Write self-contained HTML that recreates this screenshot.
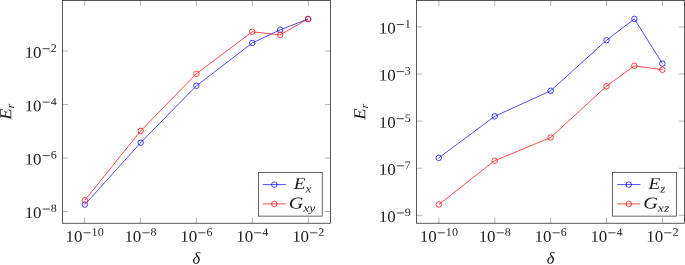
<!DOCTYPE html>
<html><head><meta charset="utf-8"><title>plots</title>
<style>
html,body{margin:0;padding:0;background:#fff;}
body{width:685px;height:265px;overflow:hidden;font-family:'Liberation Serif', serif;}
svg{display:block;will-change:transform;font-family:"Liberation Serif", serif;}
.ax{fill:none;stroke:#000;stroke-width:0.65;}
.tk{stroke:#777;stroke-width:0.55;}
text{fill:#1c1c1c;text-rendering:geometricPrecision;}
</style></head><body>
<svg width="685" height="265" viewBox="0 0 685 265">
<rect x="0" y="0" width="685" height="265" fill="#fff"/>
<line x1="84.65" y1="223.2" x2="84.65" y2="217.5" class="tk"/>
<line x1="84.65" y1="0.5" x2="84.65" y2="6.2" class="tk"/>
<line x1="140.55" y1="223.2" x2="140.55" y2="217.5" class="tk"/>
<line x1="140.55" y1="0.5" x2="140.55" y2="6.2" class="tk"/>
<line x1="196.45" y1="223.2" x2="196.45" y2="217.5" class="tk"/>
<line x1="196.45" y1="0.5" x2="196.45" y2="6.2" class="tk"/>
<line x1="252.35" y1="223.2" x2="252.35" y2="217.5" class="tk"/>
<line x1="252.35" y1="0.5" x2="252.35" y2="6.2" class="tk"/>
<line x1="308.3" y1="223.2" x2="308.3" y2="217.5" class="tk"/>
<line x1="308.3" y1="0.5" x2="308.3" y2="6.2" class="tk"/>
<line x1="62.6" y1="51.1" x2="68.3" y2="51.1" class="tk"/>
<line x1="330.45" y1="51.1" x2="324.75" y2="51.1" class="tk"/>
<line x1="62.6" y1="104.55" x2="68.3" y2="104.55" class="tk"/>
<line x1="330.45" y1="104.55" x2="324.75" y2="104.55" class="tk"/>
<line x1="62.6" y1="158.0" x2="68.3" y2="158.0" class="tk"/>
<line x1="330.45" y1="158.0" x2="324.75" y2="158.0" class="tk"/>
<line x1="62.6" y1="211.45" x2="68.3" y2="211.45" class="tk"/>
<line x1="330.45" y1="211.45" x2="324.75" y2="211.45" class="tk"/>
<rect x="62.6" y="0.5" width="267.84999999999997" height="222.7" class="ax"/>
<polyline points="84.8,204.6 140.7,142.7 196.4,85.8 252.25,43.0 280.2,29.8 308.1,19.0" fill="none" stroke="#0000ff" stroke-width="0.7"/>
<circle cx="84.8" cy="204.6" r="2.76" fill="none" stroke="#0000ff" stroke-width="0.75"/>
<circle cx="140.7" cy="142.7" r="2.76" fill="none" stroke="#0000ff" stroke-width="0.75"/>
<circle cx="196.4" cy="85.8" r="2.76" fill="none" stroke="#0000ff" stroke-width="0.75"/>
<circle cx="252.25" cy="43.0" r="2.76" fill="none" stroke="#0000ff" stroke-width="0.75"/>
<circle cx="280.2" cy="29.8" r="2.76" fill="none" stroke="#0000ff" stroke-width="0.75"/>
<circle cx="308.1" cy="19.0" r="2.76" fill="none" stroke="#0000ff" stroke-width="0.75"/>
<polyline points="84.8,200.3 140.7,130.9 196.4,73.7 252.25,31.75 280.2,34.8 308.1,19.0" fill="none" stroke="#ff0000" stroke-width="0.7"/>
<circle cx="84.8" cy="200.3" r="2.76" fill="none" stroke="#ff0000" stroke-width="0.75"/>
<circle cx="140.7" cy="130.9" r="2.76" fill="none" stroke="#ff0000" stroke-width="0.75"/>
<circle cx="196.4" cy="73.7" r="2.76" fill="none" stroke="#ff0000" stroke-width="0.75"/>
<circle cx="252.25" cy="31.75" r="2.76" fill="none" stroke="#ff0000" stroke-width="0.75"/>
<circle cx="280.2" cy="34.8" r="2.76" fill="none" stroke="#ff0000" stroke-width="0.75"/>
<circle cx="308.1" cy="19.0" r="2.76" fill="none" stroke="#ff0000" stroke-width="0.75"/>
<text transform="translate(65.43,241.80) rotate(0.05) scale(1.06,1)" font-size="16.0">10</text><line x1="83.40" y1="232.80" x2="90.60" y2="232.80" stroke="#000" stroke-width="0.75"/><text transform="translate(91.60,235.80) rotate(0.05) scale(1.08,1)" font-size="11.2">10</text>
<text transform="translate(124.38,241.80) rotate(0.05) scale(1.06,1)" font-size="16.0">10</text><line x1="142.35" y1="232.80" x2="149.55" y2="232.80" stroke="#000" stroke-width="0.75"/><text transform="translate(150.55,235.80) rotate(0.05) scale(1.08,1)" font-size="11.2">8</text>
<text transform="translate(180.28,241.80) rotate(0.05) scale(1.06,1)" font-size="16.0">10</text><line x1="198.25" y1="232.80" x2="205.45" y2="232.80" stroke="#000" stroke-width="0.75"/><text transform="translate(206.45,235.80) rotate(0.05) scale(1.08,1)" font-size="11.2">6</text>
<text transform="translate(236.18,241.80) rotate(0.05) scale(1.06,1)" font-size="16.0">10</text><line x1="254.15" y1="232.80" x2="261.35" y2="232.80" stroke="#000" stroke-width="0.75"/><text transform="translate(262.35,235.80) rotate(0.05) scale(1.08,1)" font-size="11.2">4</text>
<text transform="translate(292.13,241.80) rotate(0.05) scale(1.06,1)" font-size="16.0">10</text><line x1="310.10" y1="232.80" x2="317.30" y2="232.80" stroke="#000" stroke-width="0.75"/><text transform="translate(318.30,235.80) rotate(0.05) scale(1.08,1)" font-size="11.2">2</text>
<text transform="translate(24.63,57.70) rotate(0.05) scale(1.06,1)" font-size="16.0">10</text><line x1="42.60" y1="48.70" x2="49.80" y2="48.70" stroke="#000" stroke-width="0.75"/><text transform="translate(50.80,51.70) rotate(0.05) scale(1.08,1)" font-size="11.2">2</text>
<text transform="translate(24.63,111.15) rotate(0.05) scale(1.06,1)" font-size="16.0">10</text><line x1="42.60" y1="102.15" x2="49.80" y2="102.15" stroke="#000" stroke-width="0.75"/><text transform="translate(50.80,105.15) rotate(0.05) scale(1.08,1)" font-size="11.2">4</text>
<text transform="translate(24.63,164.60) rotate(0.05) scale(1.06,1)" font-size="16.0">10</text><line x1="42.60" y1="155.60" x2="49.80" y2="155.60" stroke="#000" stroke-width="0.75"/><text transform="translate(50.80,158.60) rotate(0.05) scale(1.08,1)" font-size="11.2">6</text>
<text transform="translate(24.63,218.05) rotate(0.05) scale(1.06,1)" font-size="16.0">10</text><line x1="42.60" y1="209.05" x2="49.80" y2="209.05" stroke="#000" stroke-width="0.75"/><text transform="translate(50.80,212.05) rotate(0.05) scale(1.08,1)" font-size="11.2">8</text>
<rect x="258.5" y="172.45" width="63.69999999999999" height="43.650000000000006" fill="#fff" stroke="#000" stroke-width="0.6"/>
<line x1="262.75" y1="184.6" x2="285.9" y2="184.6" stroke="#0000ff" stroke-width="0.7"/>
<circle cx="274.325" cy="184.6" r="2.76" fill="none" stroke="#0000ff" stroke-width="0.75"/>
<text transform="translate(302.6,189.10) rotate(0.05) scale(1.16,1)" text-anchor="middle" font-style="italic" font-size="16.6">E<tspan dy="3.3" font-size="11.2">x</tspan></text>
<line x1="262.75" y1="203.9" x2="285.9" y2="203.9" stroke="#ff0000" stroke-width="0.7"/>
<circle cx="274.325" cy="203.9" r="2.76" fill="none" stroke="#ff0000" stroke-width="0.75"/>
<text transform="translate(302.0,208.40) rotate(0.05) scale(1.22,1)" text-anchor="middle" font-style="italic" font-size="16.6">G<tspan dy="3.3" font-size="11.2">xy</tspan></text>
<text transform="translate(11.3,111.8) rotate(-89.95) scale(1.1,1)" text-anchor="middle" font-style="italic" font-size="16.8">E<tspan dy="2.6" font-size="11.2">r</tspan></text>
<text transform="translate(196.4,263.6) rotate(0.05)" text-anchor="middle" font-style="italic" font-size="16.6">δ</text>
<line x1="438.9" y1="223.2" x2="438.9" y2="217.5" class="tk"/>
<line x1="438.9" y1="0.5" x2="438.9" y2="6.2" class="tk"/>
<line x1="494.8" y1="223.2" x2="494.8" y2="217.5" class="tk"/>
<line x1="494.8" y1="0.5" x2="494.8" y2="6.2" class="tk"/>
<line x1="550.7" y1="223.2" x2="550.7" y2="217.5" class="tk"/>
<line x1="550.7" y1="0.5" x2="550.7" y2="6.2" class="tk"/>
<line x1="606.55" y1="223.2" x2="606.55" y2="217.5" class="tk"/>
<line x1="606.55" y1="0.5" x2="606.55" y2="6.2" class="tk"/>
<line x1="662.45" y1="223.2" x2="662.45" y2="217.5" class="tk"/>
<line x1="662.45" y1="0.5" x2="662.45" y2="6.2" class="tk"/>
<line x1="416.65" y1="26.95" x2="422.34999999999997" y2="26.95" class="tk"/>
<line x1="684.45" y1="26.95" x2="678.75" y2="26.95" class="tk"/>
<line x1="416.65" y1="74.0" x2="422.34999999999997" y2="74.0" class="tk"/>
<line x1="684.45" y1="74.0" x2="678.75" y2="74.0" class="tk"/>
<line x1="416.65" y1="121.1" x2="422.34999999999997" y2="121.1" class="tk"/>
<line x1="684.45" y1="121.1" x2="678.75" y2="121.1" class="tk"/>
<line x1="416.65" y1="168.25" x2="422.34999999999997" y2="168.25" class="tk"/>
<line x1="684.45" y1="168.25" x2="678.75" y2="168.25" class="tk"/>
<line x1="416.65" y1="215.35" x2="422.34999999999997" y2="215.35" class="tk"/>
<line x1="684.45" y1="215.35" x2="678.75" y2="215.35" class="tk"/>
<rect x="416.65" y="0.5" width="267.80000000000007" height="222.7" class="ax"/>
<polyline points="438.8,157.9 494.7,116.3 550.6,90.8 606.5,40.2 634.4,18.9 662.4,63.6" fill="none" stroke="#0000ff" stroke-width="0.7"/>
<circle cx="438.8" cy="157.9" r="2.76" fill="none" stroke="#0000ff" stroke-width="0.75"/>
<circle cx="494.7" cy="116.3" r="2.76" fill="none" stroke="#0000ff" stroke-width="0.75"/>
<circle cx="550.6" cy="90.8" r="2.76" fill="none" stroke="#0000ff" stroke-width="0.75"/>
<circle cx="606.5" cy="40.2" r="2.76" fill="none" stroke="#0000ff" stroke-width="0.75"/>
<circle cx="634.4" cy="18.9" r="2.76" fill="none" stroke="#0000ff" stroke-width="0.75"/>
<circle cx="662.4" cy="63.6" r="2.76" fill="none" stroke="#0000ff" stroke-width="0.75"/>
<polyline points="438.8,204.5 494.7,160.7 550.6,137.5 606.5,86.2 634.4,65.8 662.4,69.75" fill="none" stroke="#ff0000" stroke-width="0.7"/>
<circle cx="438.8" cy="204.5" r="2.76" fill="none" stroke="#ff0000" stroke-width="0.75"/>
<circle cx="494.7" cy="160.7" r="2.76" fill="none" stroke="#ff0000" stroke-width="0.75"/>
<circle cx="550.6" cy="137.5" r="2.76" fill="none" stroke="#ff0000" stroke-width="0.75"/>
<circle cx="606.5" cy="86.2" r="2.76" fill="none" stroke="#ff0000" stroke-width="0.75"/>
<circle cx="634.4" cy="65.8" r="2.76" fill="none" stroke="#ff0000" stroke-width="0.75"/>
<circle cx="662.4" cy="69.75" r="2.76" fill="none" stroke="#ff0000" stroke-width="0.75"/>
<text transform="translate(419.68,241.80) rotate(0.05) scale(1.06,1)" font-size="16.0">10</text><line x1="437.65" y1="232.80" x2="444.85" y2="232.80" stroke="#000" stroke-width="0.75"/><text transform="translate(445.85,235.80) rotate(0.05) scale(1.08,1)" font-size="11.2">10</text>
<text transform="translate(478.63,241.80) rotate(0.05) scale(1.06,1)" font-size="16.0">10</text><line x1="496.60" y1="232.80" x2="503.80" y2="232.80" stroke="#000" stroke-width="0.75"/><text transform="translate(504.80,235.80) rotate(0.05) scale(1.08,1)" font-size="11.2">8</text>
<text transform="translate(534.53,241.80) rotate(0.05) scale(1.06,1)" font-size="16.0">10</text><line x1="552.50" y1="232.80" x2="559.70" y2="232.80" stroke="#000" stroke-width="0.75"/><text transform="translate(560.70,235.80) rotate(0.05) scale(1.08,1)" font-size="11.2">6</text>
<text transform="translate(590.38,241.80) rotate(0.05) scale(1.06,1)" font-size="16.0">10</text><line x1="608.35" y1="232.80" x2="615.55" y2="232.80" stroke="#000" stroke-width="0.75"/><text transform="translate(616.55,235.80) rotate(0.05) scale(1.08,1)" font-size="11.2">4</text>
<text transform="translate(646.28,241.80) rotate(0.05) scale(1.06,1)" font-size="16.0">10</text><line x1="664.25" y1="232.80" x2="671.45" y2="232.80" stroke="#000" stroke-width="0.75"/><text transform="translate(672.45,235.80) rotate(0.05) scale(1.08,1)" font-size="11.2">2</text>
<text transform="translate(378.68,33.55) rotate(0.05) scale(1.06,1)" font-size="16.0">10</text><line x1="396.65" y1="24.55" x2="403.85" y2="24.55" stroke="#000" stroke-width="0.75"/><text transform="translate(404.85,27.55) rotate(0.05) scale(1.08,1)" font-size="11.2">1</text>
<text transform="translate(378.68,80.60) rotate(0.05) scale(1.06,1)" font-size="16.0">10</text><line x1="396.65" y1="71.60" x2="403.85" y2="71.60" stroke="#000" stroke-width="0.75"/><text transform="translate(404.85,74.60) rotate(0.05) scale(1.08,1)" font-size="11.2">3</text>
<text transform="translate(378.68,127.70) rotate(0.05) scale(1.06,1)" font-size="16.0">10</text><line x1="396.65" y1="118.70" x2="403.85" y2="118.70" stroke="#000" stroke-width="0.75"/><text transform="translate(404.85,121.70) rotate(0.05) scale(1.08,1)" font-size="11.2">5</text>
<text transform="translate(378.68,174.85) rotate(0.05) scale(1.06,1)" font-size="16.0">10</text><line x1="396.65" y1="165.85" x2="403.85" y2="165.85" stroke="#000" stroke-width="0.75"/><text transform="translate(404.85,168.85) rotate(0.05) scale(1.08,1)" font-size="11.2">7</text>
<text transform="translate(378.68,221.95) rotate(0.05) scale(1.06,1)" font-size="16.0">10</text><line x1="396.65" y1="212.95" x2="403.85" y2="212.95" stroke="#000" stroke-width="0.75"/><text transform="translate(404.85,215.95) rotate(0.05) scale(1.08,1)" font-size="11.2">9</text>
<rect x="612.5" y="172.45" width="63.950000000000045" height="43.650000000000006" fill="#fff" stroke="#000" stroke-width="0.6"/>
<line x1="617.15" y1="184.6" x2="640.4" y2="184.6" stroke="#0000ff" stroke-width="0.7"/>
<circle cx="628.775" cy="184.6" r="2.76" fill="none" stroke="#0000ff" stroke-width="0.75"/>
<text transform="translate(656.8,189.10) rotate(0.05) scale(1.16,1)" text-anchor="middle" font-style="italic" font-size="16.6">E<tspan dy="3.3" font-size="11.2">z</tspan></text>
<line x1="617.15" y1="203.9" x2="640.4" y2="203.9" stroke="#ff0000" stroke-width="0.7"/>
<circle cx="628.775" cy="203.9" r="2.76" fill="none" stroke="#ff0000" stroke-width="0.75"/>
<text transform="translate(656.1999999999999,208.40) rotate(0.05) scale(1.22,1)" text-anchor="middle" font-style="italic" font-size="16.6">G<tspan dy="3.3" font-size="11.2">xz</tspan></text>
<text transform="translate(365.3,111.8) rotate(-89.95) scale(1.1,1)" text-anchor="middle" font-style="italic" font-size="16.8">E<tspan dy="2.6" font-size="11.2">r</tspan></text>
<text transform="translate(550.6,263.6) rotate(0.05)" text-anchor="middle" font-style="italic" font-size="16.6">δ</text>
</svg>
</body></html>
